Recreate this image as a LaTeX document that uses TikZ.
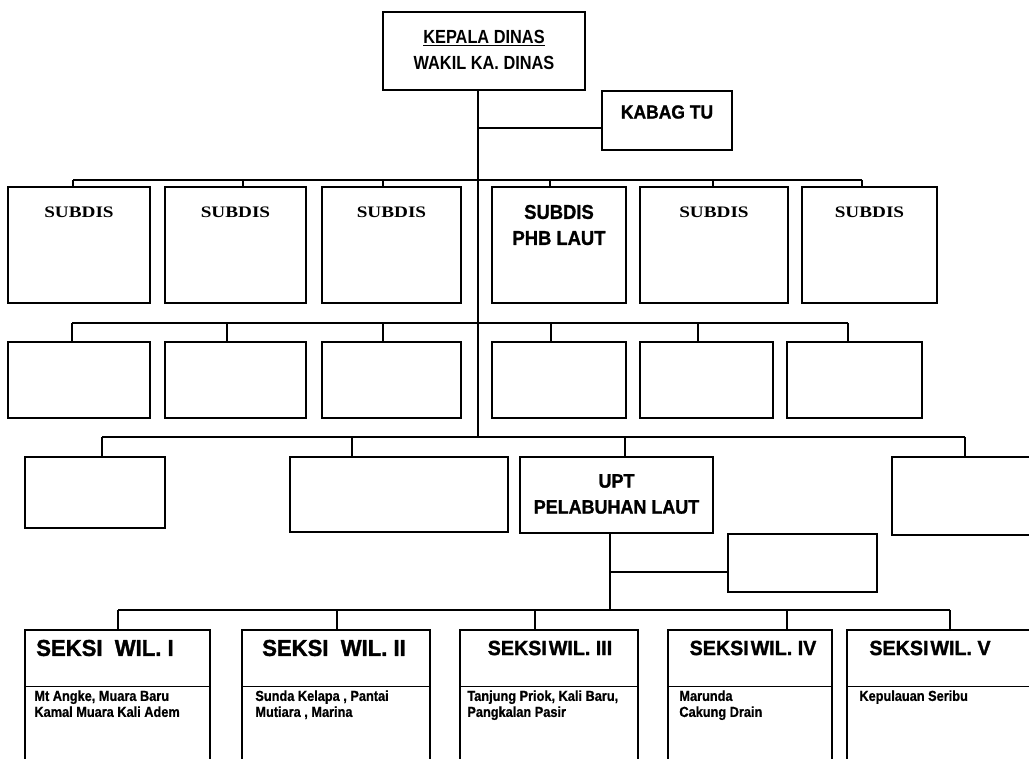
\documentclass[tikz,border=0pt]{standalone}
\usepackage{fontspec}
\setmainfont{Liberation Sans}
\newfontfamily\nar[FakeStretch=0.86]{Liberation Sans}
\newfontfamily\heavy[FakeStretch=0.92,FakeBold=1.2]{Liberation Sans}
\newfontfamily\wideheavy[FakeStretch=0.96,FakeBold=1.4]{Liberation Sans}
\newfontfamily\bodyheavy[FakeStretch=0.88,FakeBold=0.8]{Liberation Sans}
\newfontfamily\widefaint[FakeStretch=1.2]{Liberation Serif}
\usetikzlibrary{calc}
\begin{document}
\begin{tikzpicture}[x=1pt,y=-1pt,
  box/.style={draw, line width=1.6pt, inner sep=0pt},
  conn/.style={line width=1.4pt},
  head/.style={font=\heavy\bfseries\fontsize{19}{26}\selectfont, align=center, inner sep=0pt},
  faint/.style={font=\widefaint\bfseries\fontsize{16}{20}\selectfont, align=center, inner sep=0pt},
  sek/.style={font=\wideheavy\bfseries\fontsize{23}{26}\selectfont, inner sep=0pt},
  sektight/.style={font=\wideheavy\bfseries\fontsize{20.5}{26}\selectfont, inner sep=0pt},
  body/.style={font=\bodyheavy\bfseries\fontsize{14.5}{16}\selectfont, align=left, inner sep=0pt, anchor=north west}]
\useasboundingbox (0,0) rectangle (1029,759);
\fill[white] (0,0) rectangle (1029,759);

% top
\node[box, minimum width=202, minimum height=78] (kd) at (484,51) {};
\node[font=\nar\bfseries\fontsize{19}{26}\selectfont, align=center, inner sep=0pt] (kdt) at (484,50) {\underline{KEPALA DINAS}\\WAKIL KA. DINAS};
\node[box, minimum width=130, minimum height=59] (kabag) at (667,120.5) {};
\node[head] (kabagt) at (667,112) {KABAG TU};

% row 1
\node[box, minimum width=142, minimum height=116] (s1) at (79,245) {};
\node[box, minimum width=141, minimum height=116] (s2) at (235.5,245) {};
\node[box, minimum width=139, minimum height=116] (s3) at (391.5,245) {};
\node[box, minimum width=134, minimum height=116] (s4) at (559,245) {};
\node[box, minimum width=148, minimum height=116] (s5) at (714,245) {};
\node[box, minimum width=135, minimum height=116] (s6) at (869.5,245) {};
\node[faint] (s1t) at (79,212) {SUBDIS};
\node[faint] (s2t) at (235.5,212) {SUBDIS};
\node[faint] (s3t) at (391.5,212) {SUBDIS};
\node[head, font=\heavy\bfseries\fontsize{20}{26}\selectfont] (s4t) at (559,225) {SUBDIS\\PHB LAUT};
\node[faint] (s5t) at (714,212) {SUBDIS};
\node[faint] (s6t) at (869.5,212) {SUBDIS};

% row 2
\node[box, minimum width=142, minimum height=76] (r1) at (79,380) {};
\node[box, minimum width=141, minimum height=76] (r2) at (235.5,380) {};
\node[box, minimum width=139, minimum height=76] (r3) at (391.5,380) {};
\node[box, minimum width=134, minimum height=76] (r4) at (559,380) {};
\node[box, minimum width=133, minimum height=76] (r5) at (706.5,380) {};
\node[box, minimum width=135, minimum height=76] (r6) at (854.5,380) {};

% row 3
\node[box, minimum width=140, minimum height=71] (t1) at (95,492.5) {};
\node[box, minimum width=218, minimum height=75] (t2) at (399,494.5) {};
\node[box, minimum width=193, minimum height=76] (upt) at (616.5,495) {};
\node[head, font=\heavy\bfseries\fontsize{19.5}{26}\selectfont] (uptt) at (616.5,494) {UPT\\PELABUHAN LAUT};
\node[box, minimum width=143, minimum height=78] (t4) at (963.5,496) {};
\node[box, minimum width=149, minimum height=58] (side) at (802.5,563) {};

% bottom row
\node[box, minimum width=185, minimum height=140] (b1) at (117.5,700) {};
\node[box, minimum width=188, minimum height=140] (b2) at (336,700) {};
\node[box, minimum width=178, minimum height=140] (b3) at (549,700) {};
\node[box, minimum width=164, minimum height=140] (b4) at (750,700) {};
\node[box, minimum width=193, minimum height=140] (b5) at (943.5,700) {};
\foreach \b in {b1,b2,b3,b4,b5}{
  \draw[line width=1.4pt] ($(\b.north west)+(0,57)$) -- ($(\b.north east)+(0,57)$);
}
\node[sek] (b1h) at (105,648) {SEKSI\ \ WIL. I};
\node[sek] (b2h) at (334,648) {SEKSI\ \ WIL.\ II};
\node[sektight] (b3h) at (550,648) {SEKSI\hspace{2pt}WIL. III};
\node[sektight] (b4h) at (753,648) {SEKSI\hspace{2pt}WIL. IV};
\node[sektight] (b5h) at (930,648) {SEKSI\hspace{2pt}WIL. V};
\node[body] (b1b) at ($(b1.north west)+(10,61)$) {Mt Angke, Muara Baru\\Kamal Muara Kali Adem};
\node[body] (b2b) at ($(b2.north west)+(14,61)$) {Sunda Kelapa , Pantai\\Mutiara , Marina};
\node[body] (b3b) at ($(b3.north west)+(8,61)$) {Tanjung Priok, Kali Baru,\\Pangkalan Pasir};
\node[body] (b4b) at ($(b4.north west)+(12,61)$) {Marunda\\Cakung Drain};
\node[body] (b5b) at ($(b5.north west)+(13,61)$) {Kepulauan Seribu};

% connectors
\coordinate (j0) at (478,437);
\coordinate (jk) at (478,128);
\draw[conn] (kd.south -| j0) -- (j0);
\draw[conn] (jk) -- (jk -| kabag.west);

\coordinate (a1) at (73,180);  \coordinate (a2) at (243,180);
\coordinate (a3) at (383,180); \coordinate (a4) at (550,180);
\coordinate (a5) at (713,180); \coordinate (a6) at (862,180);
\draw[conn] (a1) -- (a6);
\draw[conn] (a1) -- (a1 |- s1.north);
\draw[conn] (a2) -- (a2 |- s2.north);
\draw[conn] (a3) -- (a3 |- s3.north);
\draw[conn] (a4) -- (a4 |- s4.north);
\draw[conn] (a5) -- (a5 |- s5.north);
\draw[conn] (a6) -- (a6 |- s6.north);

\coordinate (c1) at (72,323);  \coordinate (c2) at (227,323);
\coordinate (c3) at (383,323); \coordinate (c4) at (551,323);
\coordinate (c5) at (698,323); \coordinate (c6) at (848,323);
\draw[conn] (c1) -- (c6);
\draw[conn] (c1) -- (c1 |- r1.north);
\draw[conn] (c2) -- (c2 |- r2.north);
\draw[conn] (c3) -- (c3 |- r3.north);
\draw[conn] (c4) -- (c4 |- r4.north);
\draw[conn] (c5) -- (c5 |- r5.north);
\draw[conn] (c6) -- (c6 |- r6.north);

\coordinate (d1) at (102,437); \coordinate (d2) at (352,437);
\coordinate (d3) at (625,437); \coordinate (d4) at (965,437);
\draw[conn] (d1) -- (d4);
\draw[conn] (d1) -- (d1 |- t1.north);
\draw[conn] (d2) -- (d2 |- t2.north);
\draw[conn] (d3) -- (d3 |- upt.north);
\draw[conn] (d4) -- (d4 |- t4.north);

\coordinate (e0) at (610,610);
\coordinate (es) at (610,572);
\draw[conn] (upt.south -| e0) -- (e0);
\draw[conn] (es) -- (es -| side.west);

\coordinate (f1) at (118,610); \coordinate (f2) at (337,610);
\coordinate (f3) at (535,610); \coordinate (f4) at (787,610);
\coordinate (f5) at (950,610);
\draw[conn] (f1) -- (f5);
\draw[conn] (f1) -- (f1 |- b1.north);
\draw[conn] (f2) -- (f2 |- b2.north);
\draw[conn] (f3) -- (f3 |- b3.north);
\draw[conn] (f4) -- (f4 |- b4.north);
\draw[conn] (f5) -- (f5 |- b5.north);
\end{tikzpicture}
\end{document}
